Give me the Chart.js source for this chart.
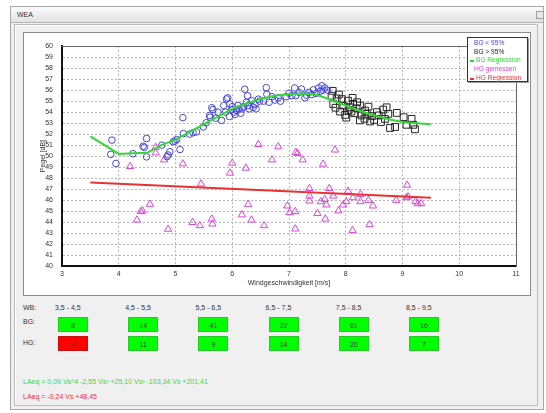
<!DOCTYPE html>
<meta charset="utf-8" />
<title>WEA</title>

<script src="https://cdn.jsdelivr.net/npm/chart.js@4.4.1/dist/chart.umd.min.js"></script>

<style>
body {
	margin: 0;
	background: #fff;
	font-family: 'Liberation Sans', Arial, sans-serif;
	font-size: 7px;
	color: #333;
}
.abs { position: absolute; }
.win {
	left: 10px; top: 6px; width: 532px; height: 402px;
	border: 1px solid #a8a8a8;
	background: #f0f0f0;
}
.titlebar {
	left: 11px; top: 7px; width: 532px; height: 15px;
	background: linear-gradient(#fbfbfb, #e2e2e2);
	border-bottom: 1px solid #b4b4b4;
}
.titlebar span { position: absolute; left: 6px; top: 4px; }
.btn {
	left: 536px; top: 11px; width: 6px; height: 6px;
	border: 1px solid #a0a0a0; background: #e8e8e8;
}
.frame {
	left: 14px; top: 24px; width: 522px; height: 380px;
	border: 1px solid #bcbcbc;
	box-shadow: inset 1px 1px 0 #fff;
}
.panel {
	left: 23px; top: 32px; width: 508px; height: 264px;
	background: #fff;
	border: 1px solid #8c8c8c;
	box-sizing: border-box;
}
canvas.chart { left: 24px; top: 33px; }
.legend {
	left: 467px; top: 37px; width: 61px; height: 45px;
	background: #fff;
	border: 1px solid #333;
	box-shadow: 1px 1px 0 #999;
	box-sizing: border-box;
	padding-top: 1px;
	font-size: 6.6px;
}
.legend div { position: relative; height: 8.7px; line-height: 8.7px; padding-left: 6px; white-space: nowrap; }
.legend div.line { padding-left: 8px; }
.legend i { position: absolute; left: 2px; top: 4px; width: 4px; height: 2px; }
.lbl { line-height: 8px; white-space: nowrap; }
.box {
	width: 30px; height: 15px; line-height: 15px;
	text-align: center; box-sizing: border-box;
	color: #444;
}
.eq { line-height: 8px; white-space: nowrap; }
</style>

<div class="abs win"></div>
<div class="abs titlebar"><span>WEA</span></div>
<div class="abs btn"></div>
<div class="abs frame"></div>
<div class="abs panel"></div>
<canvas class="abs chart" width="506" height="262"></canvas>
<div class="abs legend"></div>
<div class="table"></div>

<script>
// BG < 95% (blue circles)
const bgLow = [
	[3.88, 51.45], [3.86, 50.16], [3.95, 49.33], [4.25, 50.22], [4.49, 51.6], [4.43, 50.9], [4.45, 50.8], [4.49, 49.93],
	[4.76, 51.0], [4.87, 50.1], [4.9, 50.4], [4.85, 49.95], [4.96, 51.3], [5.02, 51.5], [4.99, 51.36], [5.08, 50.6],
	[5.14, 52.05], [5.13, 53.5], [5.37, 52.2], [5.31, 52.13], [5.25, 52.0], [5.49, 52.65],
	[5.54, 53.03], [5.61, 53.54], [5.66, 54.23], [5.71, 53.45], [5.81, 53.25], [5.6, 53.7], [5.64, 54.4], [5.75, 54.0],
	[5.85, 54.6], [5.9, 55.2], [5.92, 55.3], [5.96, 54.74], [5.99, 54.23], [6.0, 54.5], [6.03, 54.0], [6.08, 54.14],
	[6.12, 54.3], [6.17, 54.29], [6.2, 54.5], [6.22, 56.08], [6.27, 55.49], [6.28, 54.6], [6.3, 54.3], [6.34, 55.04],
	[6.37, 54.44], [6.4, 54.7], [6.46, 55.18], [6.48, 55.0], [6.42, 54.3], [6.15, 53.9], [6.05, 53.8], [5.95, 53.6],
	[6.25, 54.9], [6.1, 54.6], [5.88, 54.0],
	[6.6, 56.23], [6.61, 55.63], [6.55, 55.0], [6.75, 55.1], [6.81, 55.3], [6.85, 55.0], [6.7, 55.4], [7.0, 55.72],
	[7.05, 55.5], [7.1, 56.2], [7.12, 55.5], [7.22, 56.1], [7.31, 55.54], [7.43, 56.03], [7.35, 55.8], [7.28, 55.3],
	[6.95, 55.4], [7.18, 55.8], [7.4, 55.6], [6.65, 54.9],
	[7.52, 56.2], [7.58, 56.4], [7.63, 56.2], [7.55, 55.9], [7.6, 56.0], [7.68, 56.0], [7.48, 55.7],
];

// BG > 95% (black squares)
const bgHigh = [
	[7.77, 55.94], [7.75, 55.49], [7.78, 54.74], [7.84, 55.25], [7.93, 55.18], [7.96, 54.6], [8.04, 55.04], [8.07, 54.44],
	[7.9, 54.05], [7.99, 53.75], [8.1, 54.05], [8.13, 54.74], [8.19, 54.35], [8.25, 54.6], [8.28, 53.7], [8.34, 54.14],
	[8.37, 53.84], [8.43, 53.15], [8.46, 53.63], [8.55, 54.0], [8.58, 53.7], [8.66, 54.23], [8.72, 54.44], [8.69, 53.39],
	[8.75, 53.84], [8.9, 53.93], [9.02, 53.54], [9.16, 53.39], [9.19, 52.85], [9.22, 52.44], [8.78, 52.56], [8.87, 52.65],
	[9.07, 52.85], [8.25, 53.25], [8.01, 53.5], [8.33, 53.4], [8.12, 55.3], [7.88, 55.6], [8.2, 54.9], [8.4, 54.5],
	[8.05, 54.2], [8.5, 53.3], [8.62, 53.1], [7.82, 54.4], [8.15, 53.9],
];

// HG gemessen (magenta triangles)
const hgMeasured = [
	[4.2, 49.06], [4.32, 44.19], [4.39, 44.96], [4.42, 45.02],
	[4.55, 45.62], [4.65, 50.8], [4.65, 50.3], [4.8, 49.66], [4.87, 43.35], [5.13, 49.3], [5.3, 43.97], [5.43, 43.68], [5.45, 47.47],
	[5.64, 44.28], [5.65, 43.83], [6.0, 49.36], [5.96, 48.46], [6.24, 48.91], [6.17, 44.66], [6.28, 45.62], [6.34, 44.19], [6.46, 51.06],
	[6.56, 43.68], [6.7, 49.66], [6.81, 50.85], [6.97, 45.47], [7.01, 44.87], [7.11, 44.96], [7.11, 43.38], [7.12, 50.34],
	[7.15, 50.25], [7.24, 49.66], [7.36, 47.06], [7.36, 46.37], [7.36, 45.92],
	[7.6, 49.27], [7.81, 50.56], [7.5, 44.78], [7.56, 45.86], [7.63, 46.07], [7.66, 45.56], [7.64, 44.28], [7.71, 47.06],
	[7.78, 46.37], [7.87, 45.02], [7.95, 45.56], [8.01, 45.86], [8.04, 46.82], [8.13, 46.22], [8.26, 46.52], [8.26, 45.86],
	[8.4, 45.98], [8.48, 45.47], [8.12, 43.23], [8.42, 43.77],
	[8.89, 45.98], [9.08, 47.36], [9.07, 46.22], [9.23, 45.86], [9.27, 45.68], [9.33, 45.68], [9.1, 46.3],
];

// regression curves
const bgRegX = [3.5, 3.75, 4.0, 4.25, 4.5, 4.75, 5.0, 5.25, 5.5, 5.75, 6.0, 6.25, 6.5, 6.75, 7.0, 7.25, 7.5, 7.75, 8.0, 8.25, 8.5, 8.75, 9.0, 9.25, 9.5];
const bgRegY = [51.8, 51.0, 50.2, 50.25, 50.3, 51.0, 51.5, 52.2, 52.9, 53.6, 54.3, 54.8, 55.2, 55.5, 55.65, 55.7, 55.55, 55.1, 54.6, 54.1, 53.7, 53.35, 53.1, 53.0, 52.9];
const hgRegX = [3.5, 9.5];
const hgRegY = [47.6, 46.2];

// bin table
const bins = ['3,5 - 4,5', '4,5 - 5,5', '5,5 - 6,5', '6,5 - 7,5', '7,5 - 8,5', '8,5 - 9,5'];
const bgCounts = [8, 14, 41, 22, 61, 16];
const hgCounts = [4, 11, 9, 14, 20, 7];
const minCount = 6;

const bgFormula = 'LAeq = 0,09 Vs^4 -2,55 Vs³ +25,10 Vs² -103,34 Vs +201,41';
const hgFormula = 'LAeq = -0,24 Vs +48,45';

const toPts = arr => arr.map(([x, y]) => ({x, y}));
const zipPts = (xs, ys) => xs.map((x, i) => ({x, y: ys[i]}));

const blue = '#4646d8', black = '#262626', magenta = '#dc44dc', green = '#33d833', red = '#e83232';
const font = {family: "'Liberation Sans', Arial, sans-serif", size: 7};

Chart.defaults.font = font;
Chart.defaults.color = '#333';

const datasets = [
	{label: 'BG < 95%', data: toPts(bgLow), pointStyle: 'circle', pointRadius: 3.3, borderColor: blue, backgroundColor: 'transparent', borderWidth: 1, order: 3},
	{label: 'BG > 95%', data: toPts(bgHigh), pointStyle: 'rect', pointRadius: 4.8, borderColor: black, backgroundColor: 'transparent', borderWidth: 1, order: 3},
	{label: 'BG Regression', data: zipPts(bgRegX, bgRegY), showLine: true, pointRadius: 0, borderColor: green, borderWidth: 2, tension: 0, order: 1},
	{label: 'HG gemessen', data: toPts(hgMeasured), pointStyle: 'triangle', pointRadius: 4.2, borderColor: magenta, backgroundColor: 'transparent', borderWidth: 1, order: 3},
	{label: 'HG Regression', data: zipPts(hgRegX, hgRegY), showLine: true, pointRadius: 0, borderColor: red, borderWidth: 2, order: 1},
];

const gridColor = '#b4b4b4';

const chart = new Chart(document.querySelector('canvas.chart'), {
	type: 'scatter',
	data: {datasets},
	options: {
		responsive: false,
		animation: false,
		layout: {padding: {top: 10, right: 14, left: 0, bottom: 0}},
		plugins: {
			legend: {display: false},
			tooltip: {enabled: false},
		},
		scales: {
			x: {
				type: 'linear', position: 'bottom', min: 3, max: 11,
				ticks: {stepSize: 1, padding: 4, autoSkip: false},
				grid: {color: gridColor, drawTicks: false},
				border: {color: '#111', width: 2, dash: [2, 2]},
				title: {display: true, text: 'Windgeschwindigkeit [m/s]', padding: {top: 0, bottom: 8}},
				afterFit: s => { s.height = 29; },
			},
			y: {
				type: 'linear', position: 'left', min: 40, max: 60,
				ticks: {stepSize: 1, padding: 9, autoSkip: false},
				grid: {color: gridColor, drawTicks: false},
				border: {color: '#111', width: 2, dash: [2, 2]},
				title: {display: true, text: 'Pegel [dB]', padding: {top: 15, bottom: 0}},
				afterFit: s => { s.width = 38; },
			},
			xTop: {
				type: 'linear', position: 'top', min: 3, max: 11,
				ticks: {display: false}, grid: {display: false},
				border: {color: '#666', width: 1},
				afterFit: s => { s.height = 0; },
			},
			yRight: {
				type: 'linear', position: 'right', min: 40, max: 60,
				ticks: {display: false}, grid: {display: false},
				border: {color: '#666', width: 1},
				afterFit: s => { s.width = 0; },
			},
		},
	},
});

// legend overlay
const legend = document.querySelector('.legend');
datasets.forEach(ds => {
	const row = document.createElement('div');
	row.style.color = ds.borderColor;
	if (ds.showLine) {
		row.className = 'line';
		const mark = document.createElement('i');
		mark.style.background = ds.borderColor;
		row.append(mark);
	}
	row.append(ds.label);
	legend.append(row);
});

// bin table below the chart
const table = document.querySelector('.table');
function put(cls, text, x, y, style) {
	const e = document.createElement('div');
	e.className = 'abs ' + cls;
	e.style.left = x + 'px';
	e.style.top = y + 'px';
	Object.assign(e.style, style || {});
	e.textContent = text;
	table.append(e);
	return e;
}
const colX = i => 58 + i * 70.2;
put('lbl', 'WB:', 23, 304);
put('lbl', 'BG:', 23, 318);
put('lbl', 'HG:', 23, 339);
bins.forEach((b, i) => {
	put('lbl', b, colX(i) - 3, 304);
	[bgCounts, hgCounts].forEach((counts, row) => {
		const ok = counts[i] >= minCount;
		put('box', String(counts[i]), colX(i), row ? 336 : 317, {
			background: ok ? '#00ff00' : '#ff0000',
			border: '1px solid ' + (ok ? '#22cc22' : '#c41010'),
		});
	});
});
put('eq', bgFormula, 23, 378, {color: '#3cd83c'});
put('eq', hgFormula, 23, 393, {color: '#ec3030'});
</script>
